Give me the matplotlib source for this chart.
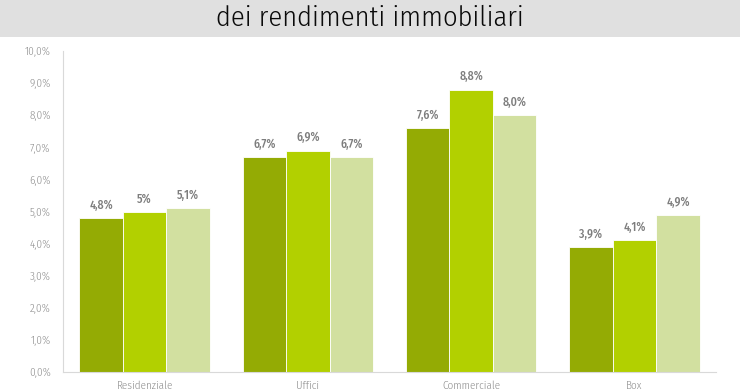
import matplotlib
matplotlib.use("Agg")
import matplotlib.pyplot as plt
import numpy as np
from matplotlib.patches import Rectangle

categories = ["Residenziale", "Uffici", "Commerciale", "Box"]
series1 = [4.8, 6.7, 7.6, 3.9]
series2 = [5.0, 6.9, 8.8, 4.1]
series3 = [5.1, 6.7, 8.0, 4.9]
labels1 = ["4,8%", "6,7%", "7,6%", "3,9%"]
labels2 = ["5%", "6,9%", "8,8%", "4,1%"]
labels3 = ["5,1%", "6,7%", "8,0%", "4,9%"]
yticks = [0, 1, 2, 3, 4, 5, 6, 7, 8, 9, 10]
ytick_labels = ["0,0%", "1,0%", "2,0%", "3,0%", "4,0%", "5,0%", "6,0%", "7,0%", "8,0%", "9,0%", "10,0%"]
title = "dei rendimenti immobiliari"

colors = ["#94ab04", "#b2d000", "#d2e0a0"]
FONT = ["Fira Sans Condensed", "DejaVu Sans"]
plt.rcParams["font.family"] = FONT

fig = plt.figure(figsize=(7.4, 3.89), dpi=100)
fig.patches.append(Rectangle((0, 1 - 37/389), 1, 37/389, transform=fig.transFigure,
                             facecolor="#e0e0e0", edgecolor="none", zorder=0))
fig.text(0.5, 1 - 18/389, title, ha="center", va="center", fontsize=20.5,
         weight=350, color="#0a0a0a")

ax = fig.add_axes([63/740, 1 - 372/389, (716-63)/740, (372-51)/389])
x = np.arange(len(categories))
w = 0.2667
for i, (vals, labs) in enumerate([(series1, labels1), (series2, labels2), (series3, labels3)]):
    bars = ax.bar(x + (i - 1) * w, vals, width=w, color=colors[i], edgecolor="white", linewidth=0.6)
    for b, lab in zip(bars, labs):
        ax.text(b.get_x() + b.get_width()/2, b.get_height() + 0.2, lab, ha="center", va="bottom",
                fontsize=8.5, color="#7d7d7d", fontweight=500)

ax.set_xlim(-0.5, len(categories) - 0.5)
ax.set_ylim(0, 10)
ax.set_yticks(yticks)
ax.set_yticklabels(ytick_labels)
ax.set_xticks(x)
ax.set_xticklabels(categories)
ax.tick_params(axis="both", length=0, labelsize=8, colors="#8c8c8c")
for t in ax.get_xticklabels() + ax.get_yticklabels():
    t.set_fontweight(300)
ax.tick_params(axis="y", pad=9)
ax.tick_params(axis="x", pad=6)
for s in ["top", "right"]:
    ax.spines[s].set_visible(False)
for s in ["left", "bottom"]:
    ax.spines[s].set_color("#d9d9d9")
    ax.spines[s].set_linewidth(0.8)

fig.savefig("out.png", dpi=100)
